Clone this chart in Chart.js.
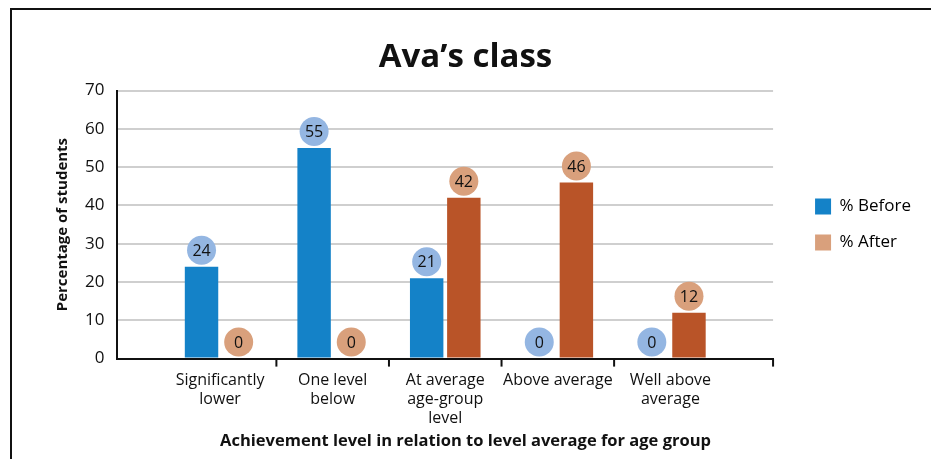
<!DOCTYPE html>
<html>
<head>
<meta charset="utf-8">
<script src="https://cdn.jsdelivr.net/npm/chart.js@4.4.1/dist/chart.umd.min.js"></script>
<style>
  html, body { margin: 0; padding: 0; background: #fff; }
  #wrap { position: absolute; left: 0; top: 0; width: 931px; height: 459px; overflow: hidden; }
  #frame { position: absolute; left: 10px; top: 8px; right: 0; bottom: 0; border-top: 2px solid #111; border-left: 2px solid #111; }
  #chart { position: absolute; left: 0; top: 0; }
</style>
</head>
<body>
<div id="wrap">
  <div id="frame"></div>
  <canvas id="chart" width="931" height="459"></canvas>
</div>
<script>
// values
var categories = [['Significantly', 'lower'], ['One level', 'below'], ['At average', 'age-group', 'level'], 'Above average', ['Well above', 'average']];
var before = [24, 55, 21, 0, 0];
var after = [0, 0, 42, 46, 12];
var seriesNames = ['% Before', '% After'];

var FONT = '"Open Sans", "Noto Sans", sans-serif';

function toPoints(values) {
  return values.map(function (v, i) { return { x: i, y: v }; });
}

// round value badges sitting just above each bar
var bubbleLabels = {
  id: 'bubbleLabels',
  afterDatasetsDraw: function (chart) {
    var ctx = chart.ctx;
    chart.data.datasets.forEach(function (ds, di) {
      var meta = chart.getDatasetMeta(di);
      meta.data.forEach(function (bar, i) {
        var cy = bar.y - 16.5;
        ctx.save();
        ctx.beginPath();
        ctx.arc(bar.x, cy, 14.5, 0, Math.PI * 2);
        ctx.fillStyle = ds.bubbleColor;
        ctx.fill();
        ctx.fillStyle = '#111';
        ctx.font = '16px ' + FONT;
        ctx.textAlign = 'center';
        ctx.textBaseline = 'middle';
        ctx.fillText(String(ds.data[i].y), bar.x, cy + 1);
        ctx.restore();
      });
    });
  }
};

// tick marks between categories and at the end of the axis
var catTicks = {
  id: 'catTicks',
  afterDraw: function (chart) {
    var x = chart.scales.x, ctx = chart.ctx;
    var pos = [];
    for (var i = 0; i < categories.length - 1; i++) pos.push(x.getPixelForValue(i + 0.5));
    pos.push(x.right);
    ctx.save();
    ctx.strokeStyle = '#111';
    ctx.lineWidth = 2;
    pos.forEach(function (p) {
      ctx.beginPath();
      ctx.moveTo(p, x.top);
      ctx.lineTo(p, x.top + 8);
      ctx.stroke();
    });
    ctx.restore();
  }
};

new Chart(document.getElementById('chart'), {
  type: 'bar',
  data: {
    datasets: [
      {
        label: seriesNames[0],
        data: toPoints(before),
        backgroundColor: '#1482c8',
        legendColor: '#1482c8',
        bubbleColor: '#94b6e2'
      }, {
        label: seriesNames[1],
        data: toPoints(after),
        backgroundColor: '#b95428',
        legendColor: '#d9a07c',
        bubbleColor: '#d9a07c'
      }
    ]
  },
  options: {
    responsive: false,
    animation: false,
    categoryPercentage: 0.66,
    barPercentage: 0.9,
    layout: { padding: { left: 10, right: 10, top: 0, bottom: 0 } },
    plugins: {
      title: {
        display: true,
        text: 'Ava\u2019s class',
        color: '#111',
        font: { family: FONT, size: 33, weight: 'bold' },
        padding: { top: 38, bottom: 13 }
      },
      subtitle: {
        display: true,
        position: 'bottom',
        text: 'Achievement level in relation to level average for age group',
        color: '#111',
        font: { family: FONT, size: 16.5, weight: 'bold' },
        padding: { top: 0, bottom: 8 }
      },
      legend: {
        position: 'right',
        fullSize: false,
        labels: {
          boxWidth: 16,
          boxHeight: 16,
          padding: 19,
          color: '#111',
          font: { family: FONT, size: 17 },
          generateLabels: function (chart) {
            return chart.data.datasets.map(function (ds, i) {
              return { text: ds.label, fillStyle: ds.legendColor, strokeStyle: ds.legendColor, lineWidth: 0, datasetIndex: i, hidden: false };
            });
          }
        }
      },
      tooltip: { enabled: false }
    },
    scales: {
      x: {
        type: 'linear',
        offset: false,
        min: -0.912,
        max: 4.912,
        afterBuildTicks: function (scale) {
          scale.ticks = categories.map(function (c, i) { return { value: i }; });
        },
        afterFit: function (scale) { scale.height -= 9; },
        ticks: {
          autoSkip: false,
          maxRotation: 0,
          padding: 12,
          color: '#111',
          font: { family: FONT, size: 16 },
          callback: function (value, index) { return categories[index]; }
        },
        grid: { drawOnChartArea: false, drawTicks: false },
        border: { color: '#111', width: 2 }
      },
      y: {
        min: 0,
        max: 70,
        ticks: {
          stepSize: 10,
          padding: 13,
          color: '#111',
          font: { family: FONT, size: 17 }
        },
        grid: { color: '#cfcfcf', lineWidth: 2, drawTicks: false },
        border: { color: '#111', width: 2 },
        title: {
          display: true,
          text: 'Percentage of students',
          color: '#111',
          font: { family: FONT, size: 15, weight: 'bold' },
          padding: { top: 44, bottom: 0 }
        }
      },
      // empty spacer between the plot and the legend
      gap: {
        position: 'right',
        display: true,
        min: 0,
        max: 70,
        ticks: { display: false },
        grid: { display: false, drawTicks: false },
        border: { display: false },
        afterFit: function (scale) { scale.width = 23; }
      }
    }
  },
  plugins: [bubbleLabels, catTicks]
});
</script>
</body>
</html>
